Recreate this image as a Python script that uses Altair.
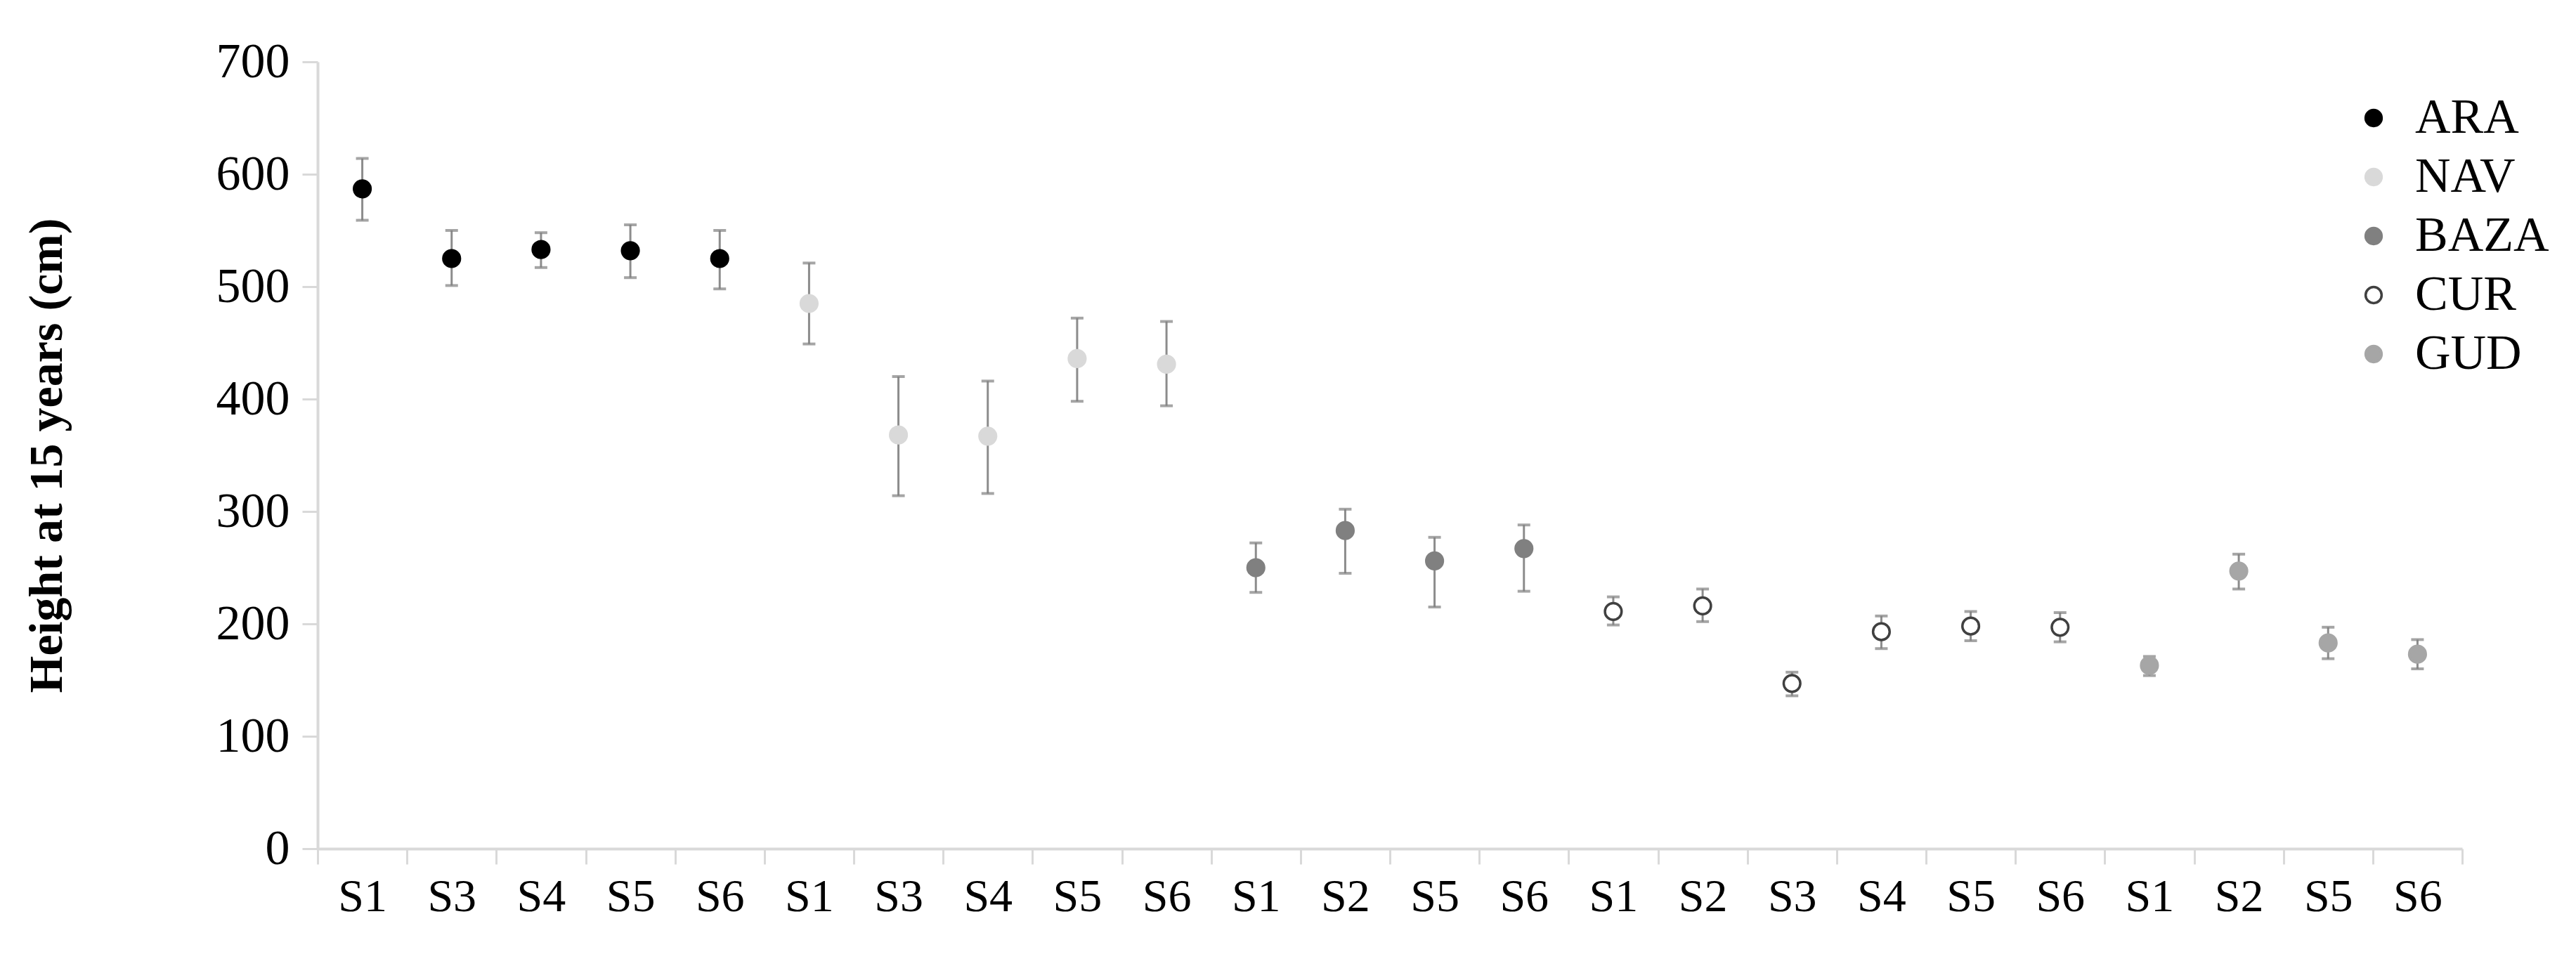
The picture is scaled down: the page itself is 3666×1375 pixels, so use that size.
import altair as alt
import pandas as pd

# ---- data ----
sites = ["ARA"] * 5 + ["NAV"] * 5 + ["BAZA"] * 4 + ["CUR"] * 6 + ["GUD"] * 4
sources = ["S1", "S3", "S4", "S5", "S6",
           "S1", "S3", "S4", "S5", "S6",
           "S1", "S2", "S5", "S6",
           "S1", "S2", "S3", "S4", "S5", "S6",
           "S1", "S2", "S5", "S6"]
means = [587, 525, 533, 532, 525,
         485, 368, 367, 436, 431,
         250, 283, 256, 267,
         211, 216, 147, 193, 198, 197,
         163, 247, 183, 173]
lower = [559, 501, 517, 508, 498,
         449, 314, 316, 398, 394,
         228, 245, 215, 229,
         199, 202, 136, 178, 185, 184,
         154, 231, 169, 160]
upper = [614, 550, 548, 555, 550,
         521, 420, 416, 472, 469,
         272, 302, 277, 288,
         224, 231, 157, 207, 211, 210,
         171, 262, 197, 186]

site_order = ["ARA", "NAV", "BAZA", "CUR", "GUD"]
fill_colors = ["#000000", "#d9d9d9", "#808080", "#ffffff", "#a6a6a6"]
stroke_colors = ["#000000", "#d9d9d9", "#808080", "#404040", "#a6a6a6"]
y_ticks = [0, 100, 200, 300, 400, 500, 600, 700]

keys = [f"{s}|{src}" for s, src in zip(sites, sources)]
df = pd.DataFrame({"key": keys, "site": sites, "source": sources,
                   "mean": means, "lower": lower, "upper": upper})

FONT = "Liberation Serif"
AXIS_GRAY = "#d9d9d9"

x_enc = alt.X("key:N", sort=keys, title=None,
              scale=alt.Scale(paddingInner=0, paddingOuter=0),
              axis=alt.Axis(labelExpr="split(datum.value, '|')[1]",
                            labelAngle=0, tickBand="extent", tickSize=22,
                            labelPadding=14, labelFontSize=66, labelFont=FONT,
                            labelColor="#000000", labelLimit=0,
                            domainColor=AXIS_GRAY,
                            tickColor=AXIS_GRAY, domainWidth=4, tickWidth=3,
                            grid=False))

y_scale = alt.Scale(domain=[0, 700], nice=False)
y_axis = alt.Axis(values=y_ticks, tickSize=22, labelPadding=18,
                  labelFontSize=70, labelFont=FONT, labelColor="#000000",
                  domainColor=AXIS_GRAY, tickColor=AXIS_GRAY, domainWidth=4,
                  tickWidth=3, grid=False,
                  title="Height at 15 years (cm)", titleFont=FONT,
                  titleFontSize=68, titleFontWeight="bold",
                  titleColor="#000000", titlePadding=206)

base = alt.Chart(df)

bars = base.mark_rule(color="#8c8c8c", strokeWidth=3).encode(
    x=x_enc,
    y=alt.Y("lower:Q", scale=y_scale, axis=y_axis),
    y2="upper:Q",
)

cap_lo = base.mark_tick(color="#7f7f7f", thickness=4, size=18).encode(
    x=x_enc, y=alt.Y("lower:Q", scale=y_scale, axis=y_axis))
cap_hi = base.mark_tick(color="#7f7f7f", thickness=4, size=18).encode(
    x=x_enc, y=alt.Y("upper:Q", scale=y_scale, axis=y_axis))

legend = alt.Legend(title=None, orient="none", legendX=2891, legendY=45,
                    padding=0, labelFont=FONT, labelFontSize=70,
                    labelColor="#000000", labelOffset=24, rowPadding=14,
                    labelLimit=0,
                    symbolType="circle", symbolSize=520, symbolStrokeWidth=3.5)

points = base.mark_point(filled=False, size=560, strokeWidth=3.5,
                         opacity=1, fillOpacity=1).encode(
    x=x_enc,
    y=alt.Y("mean:Q", scale=y_scale, axis=y_axis),
    fill=alt.Fill("site:N", scale=alt.Scale(domain=site_order, range=fill_colors),
                  legend=legend),
    stroke=alt.Stroke("site:N", scale=alt.Scale(domain=site_order, range=stroke_colors),
                      legend=legend),
)

chart = alt.layer(bars, cap_lo, cap_hi, points).properties(
    width=3052, height=1120,
    autosize=alt.AutoSizeParams(type="none"),
    padding={"left": 444, "top": 80, "right": 145, "bottom": 160},
    background="#ffffff",
).configure_view(stroke=None)

chart.save("out.html", embed_options={"renderer": "svg", "actions": False})
